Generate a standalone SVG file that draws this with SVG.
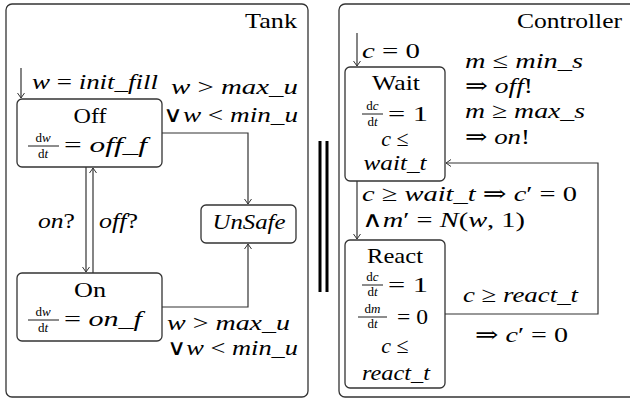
<svg xmlns="http://www.w3.org/2000/svg" width="630" height="401" viewBox="0 0 630 401" font-family="'Liberation Serif','DejaVu Serif','Times New Roman',serif">
<defs>
<style>
text{font-family:"Liberation Serif","DejaVu Serif","Times New Roman",serif;font-size:22px;fill:#000}
.i{font-style:italic}
.m{text-anchor:middle}
.e{text-anchor:end}
.f{font-size:13px}
.box{fill:#fff;stroke:#333;stroke-width:1.3}
.frame{fill:none;stroke:#333;stroke-width:1.3}
.edge{fill:none;stroke:#333;stroke-width:1.2}
.bar{stroke:#000;stroke-width:0.9}
.par{fill:#000}
</style>
<marker id="arr" viewBox="-6 -4 7 8" markerWidth="7" markerHeight="8" refX="0" refY="0" orient="auto" markerUnits="userSpaceOnUse">
<path d="M-5,-3.5 Q-1.5,-1 0,0 Q-1.5,1 -5,3.5" fill="none" stroke="#333" stroke-width="1"/>
</marker>
</defs>
<rect width="630" height="401" fill="#fff"/>

<g id="frames">
<rect id="tank-frame" class="frame" x="6" y="4" width="302" height="393" rx="6"/>
<text x="297" y="28" class="e" textLength="52" lengthAdjust="spacingAndGlyphs">Tank</text>
<rect id="controller-frame" class="frame" x="339" y="4" width="310" height="393" rx="6"/>
<text x="622" y="28" class="e" textLength="105" lengthAdjust="spacingAndGlyphs">Controller</text>
<rect class="par" x="318.5" y="141" width="3" height="151"/>
<rect class="par" x="325.5" y="141" width="3" height="151"/>
</g>

<g id="connectors">
<path class="edge" d="M21,68 V98" marker-end="url(#arr)"/>
<path class="edge" d="M162,133 H248 V204" marker-end="url(#arr)"/>
<path class="edge" d="M162,307 H248 V244" marker-end="url(#arr)"/>
<path class="edge" d="M86,167 V272" marker-end="url(#arr)"/>
<path class="edge" d="M93,273 V168" marker-end="url(#arr)"/>
<path class="edge" d="M357,33 V66" marker-end="url(#arr)"/>
<path class="edge" d="M357,181 V239" marker-end="url(#arr)"/>
<path class="edge" d="M445,314 H598 V163 H446" marker-end="url(#arr)"/>
</g>

<g id="labels">
<text x="32" y="89" textLength="126" lengthAdjust="spacingAndGlyphs"><tspan class="i">w</tspan> = <tspan class="i">init_fill</tspan></text>
<text x="171" y="94" textLength="127" lengthAdjust="spacingAndGlyphs"><tspan class="i">w</tspan> &gt; <tspan class="i">max_u</tspan></text>
<text x="163" y="122" textLength="135" lengthAdjust="spacingAndGlyphs">∨<tspan class="i">w</tspan> &lt; <tspan class="i">min_u</tspan></text>
<text x="38" y="228" textLength="37" lengthAdjust="spacingAndGlyphs"><tspan class="i">on</tspan>?</text>
<text x="99" y="228" textLength="39" lengthAdjust="spacingAndGlyphs"><tspan class="i">off</tspan>?</text>
<text x="167" y="330" textLength="123" lengthAdjust="spacingAndGlyphs"><tspan class="i">w</tspan> &gt; <tspan class="i">max_u</tspan></text>
<text x="167" y="355" textLength="131" lengthAdjust="spacingAndGlyphs">∨<tspan class="i">w</tspan> &lt; <tspan class="i">min_u</tspan></text>
<text x="362" y="58" textLength="58" lengthAdjust="spacingAndGlyphs"><tspan class="i">c</tspan> = 0</text>
<text x="465" y="68" textLength="118" lengthAdjust="spacingAndGlyphs"><tspan class="i">m</tspan> ≤ <tspan class="i">min_s</tspan></text>
<text x="465" y="93" textLength="68" lengthAdjust="spacingAndGlyphs">⇒ <tspan class="i">off</tspan>!</text>
<text x="465" y="118" textLength="120" lengthAdjust="spacingAndGlyphs"><tspan class="i">m</tspan> ≥ <tspan class="i">max_s</tspan></text>
<text x="465" y="144" textLength="65" lengthAdjust="spacingAndGlyphs">⇒ <tspan class="i">on</tspan>!</text>
<text x="362" y="201" textLength="215" lengthAdjust="spacingAndGlyphs"><tspan class="i">c</tspan> ≥ <tspan class="i">wait_t</tspan> ⇒ <tspan class="i">c</tspan>′ = 0</text>
<text x="362" y="227" textLength="163" lengthAdjust="spacingAndGlyphs">∧<tspan class="i">m</tspan>′ = <tspan class="i">N</tspan>(<tspan class="i">w</tspan>, 1)</text>
<text x="463" y="302" textLength="115" lengthAdjust="spacingAndGlyphs"><tspan class="i">c</tspan> ≥ <tspan class="i">react_t</tspan></text>
<text x="475" y="342" textLength="93" lengthAdjust="spacingAndGlyphs">⇒ <tspan class="i">c</tspan>′ = 0</text>
</g>

<g id="node-off">
<rect class="box" x="17" y="99" width="145" height="68" rx="5"/>
<text x="90" y="123" class="m" textLength="33" lengthAdjust="spacingAndGlyphs">Off</text>
<text x="43" y="142" class="m f">d<tspan class="i">w</tspan></text>
<line class="bar" x1="28" y1="146" x2="59" y2="146"/>
<text x="43" y="158" class="m f">d<tspan class="i">t</tspan></text>
<text x="64" y="152" textLength="83" lengthAdjust="spacingAndGlyphs">= <tspan class="i">off_f</tspan></text>
</g>

<g id="node-on">
<rect class="box" x="17" y="273" width="145" height="68" rx="5"/>
<text x="90" y="297" class="m" textLength="32" lengthAdjust="spacingAndGlyphs">On</text>
<text x="43" y="316" class="m f">d<tspan class="i">w</tspan></text>
<line class="bar" x1="28" y1="320" x2="59" y2="320"/>
<text x="43" y="332" class="m f">d<tspan class="i">t</tspan></text>
<text x="64" y="326" textLength="78" lengthAdjust="spacingAndGlyphs">= <tspan class="i">on_f</tspan></text>
</g>

<g id="node-unsafe">
<rect class="box" x="201" y="205" width="95" height="38" rx="5"/>
<text x="249" y="229" class="m i" textLength="73" lengthAdjust="spacingAndGlyphs">UnSafe</text>
</g>

<g id="node-wait">
<rect class="box" x="345" y="67" width="100" height="114" rx="5"/>
<text x="396" y="90" class="m" textLength="48" lengthAdjust="spacingAndGlyphs">Wait</text>
<text x="372.5" y="110" class="m f">d<tspan class="i">c</tspan></text>
<line class="bar" x1="362" y1="114" x2="383" y2="114"/>
<text x="372.5" y="126" class="m f">d<tspan class="i">t</tspan></text>
<text x="388" y="121" textLength="40" lengthAdjust="spacingAndGlyphs">= 1</text>
<text x="395" y="146" class="m"><tspan class="i">c</tspan> ≤</text>
<text x="395" y="170" class="m i" textLength="63" lengthAdjust="spacingAndGlyphs">wait_t</text>
</g>

<g id="node-react">
<rect class="box" x="345" y="240" width="100" height="148" rx="5"/>
<text x="395" y="263" class="m" textLength="56" lengthAdjust="spacingAndGlyphs">React</text>
<text x="372.5" y="281" class="m f">d<tspan class="i">c</tspan></text>
<line class="bar" x1="362" y1="285" x2="383" y2="285"/>
<text x="372.5" y="296" class="m f">d<tspan class="i">t</tspan></text>
<text x="388" y="292" textLength="40" lengthAdjust="spacingAndGlyphs">= 1</text>
<text x="372.5" y="313" class="m f">d<tspan class="i">m</tspan></text>
<line class="bar" x1="358" y1="317" x2="387" y2="317"/>
<text x="372.5" y="328" class="m f">d<tspan class="i">t</tspan></text>
<text x="397" y="324" textLength="31" lengthAdjust="spacingAndGlyphs">= 0</text>
<text x="395" y="353" class="m"><tspan class="i">c</tspan> ≤</text>
<text x="396" y="380" class="m i" textLength="68" lengthAdjust="spacingAndGlyphs">react_t</text>
</g>
</svg>
